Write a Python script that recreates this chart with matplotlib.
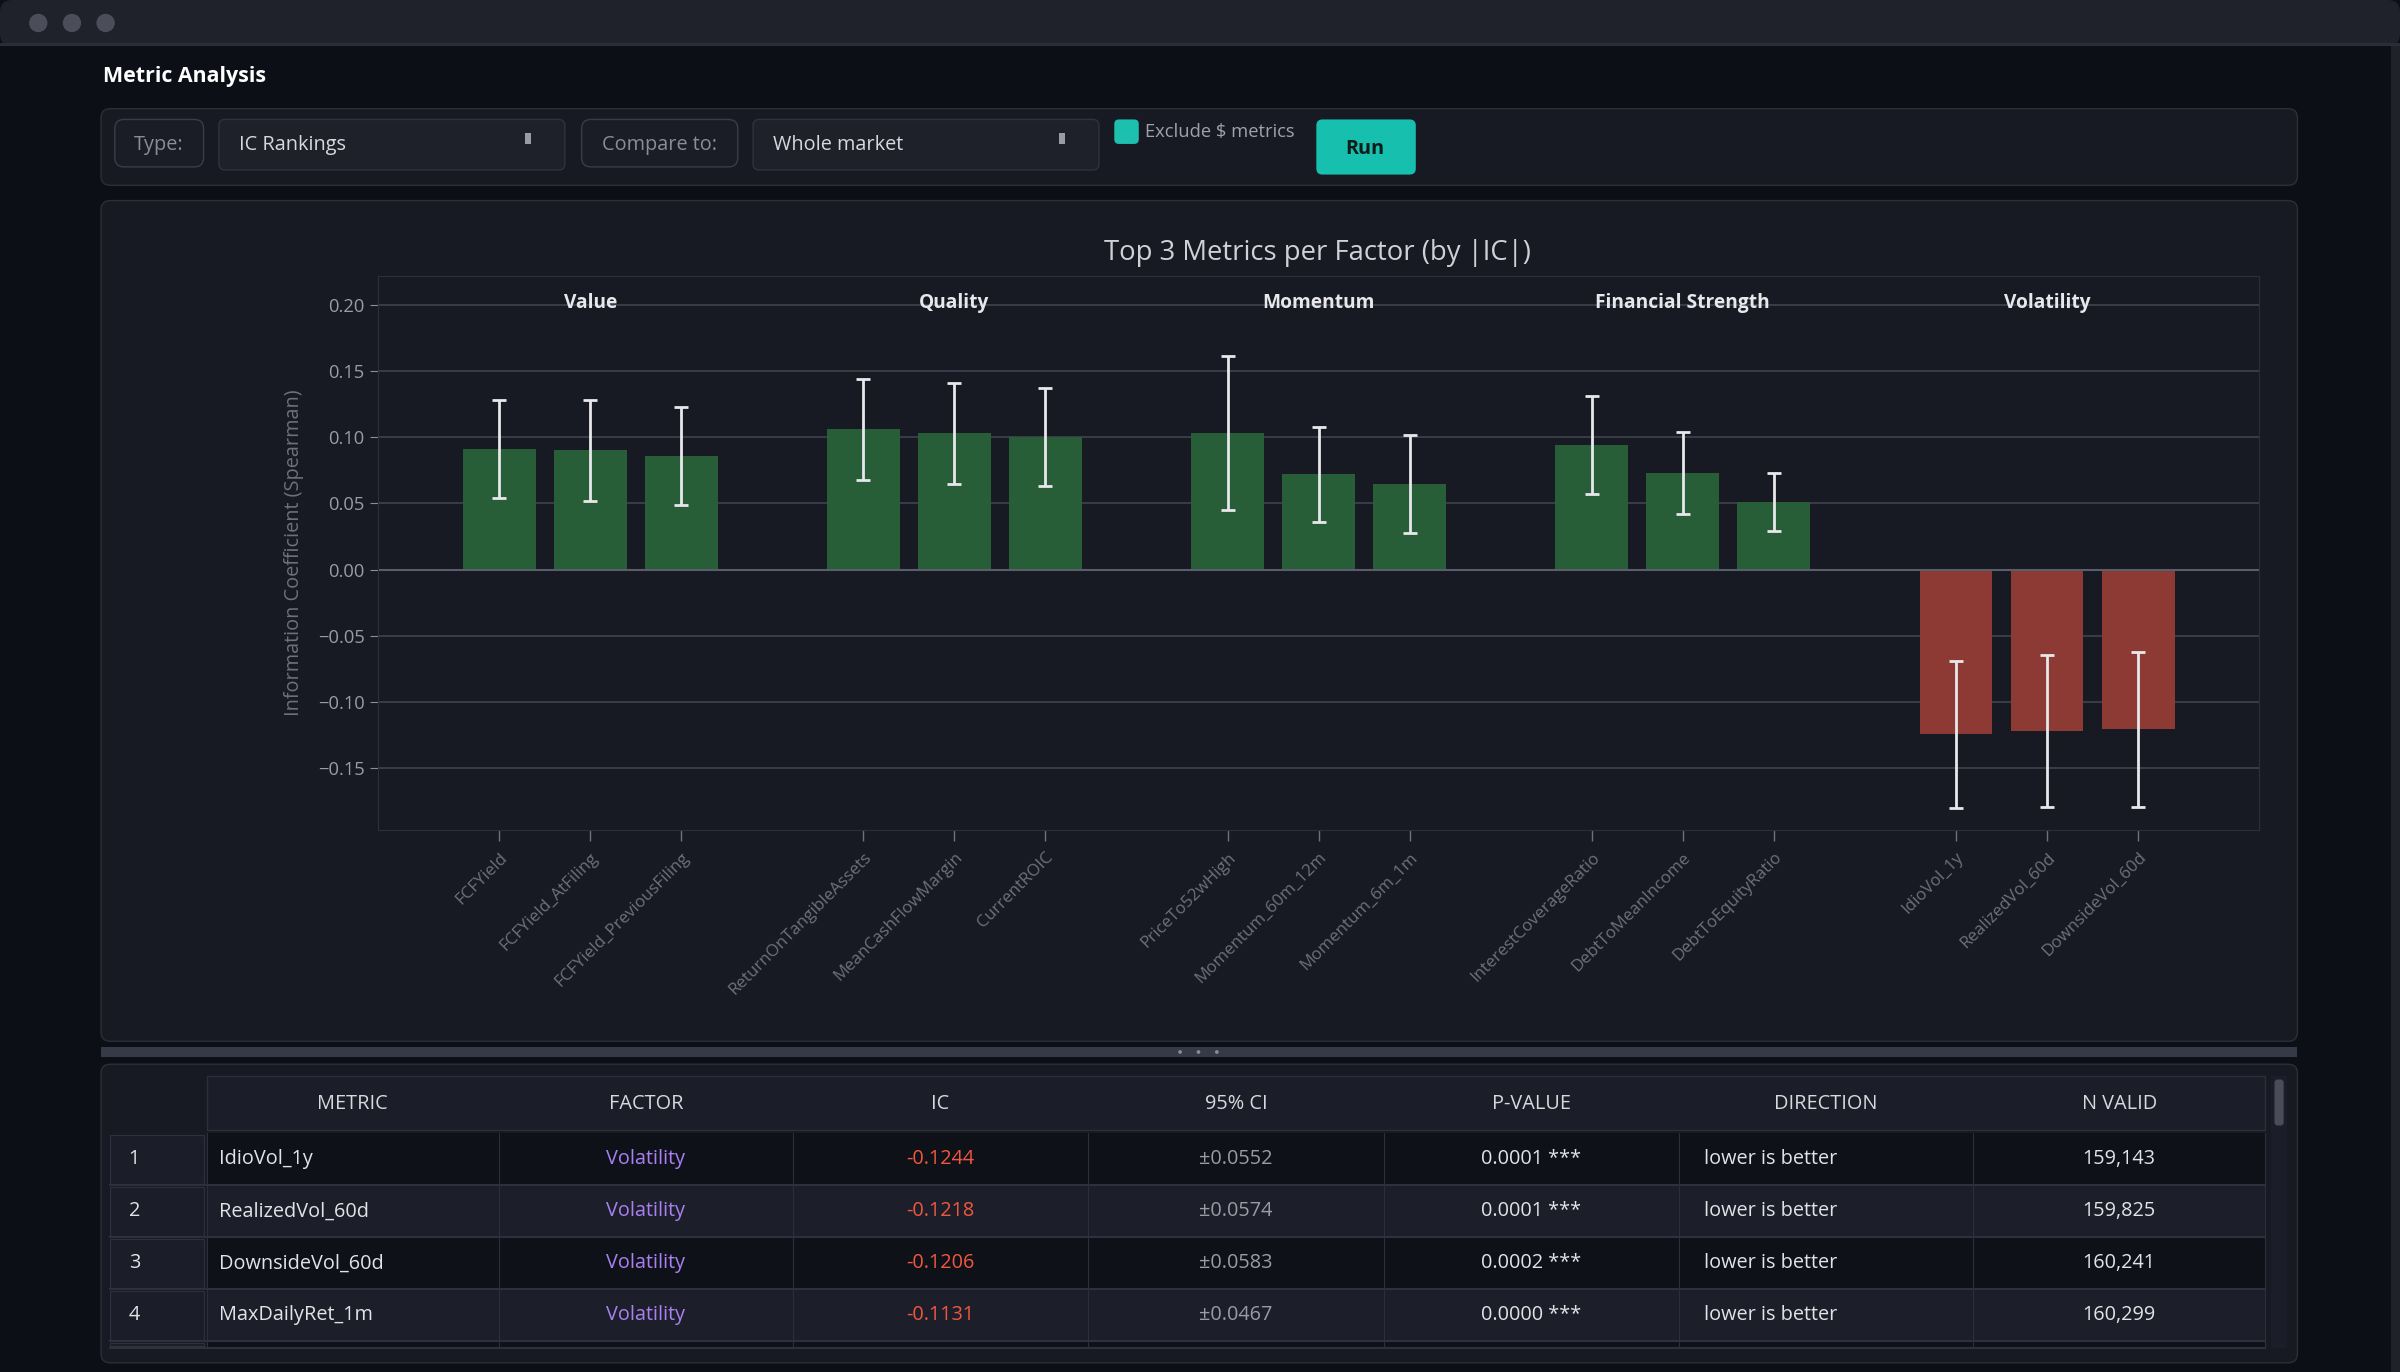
import matplotlib
matplotlib.use("Agg")
import matplotlib.pyplot as plt
from matplotlib.patches import FancyBboxPatch, Rectangle, Circle
import numpy as np

plt.rcParams['font.family'] = ['Open Sans', 'DejaVu Sans']

factors = ["Value", "Quality", "Momentum", "Financial Strength", "Volatility"]
metrics = ["FCFYield", "FCFYield_AtFiling", "FCFYield_PreviousFiling",
           "ReturnOnTangibleAssets", "MeanCashFlowMargin", "CurrentROIC",
           "PriceTo52wHigh", "Momentum_60m_12m", "Momentum_6m_1m",
           "InterestCoverageRatio", "DebtToMeanIncome", "DebtToEquityRatio",
           "IdioVol_1y", "RealizedVol_60d", "DownsideVol_60d"]
ic_values = [0.091, 0.090, 0.086, 0.106, 0.103, 0.100, 0.103, 0.072, 0.065,
             0.094, 0.073, 0.051, -0.1244, -0.1218, -0.1206]
ci_values = [0.037, 0.038, 0.037, 0.038, 0.038, 0.037, 0.058, 0.036, 0.037,
             0.037, 0.031, 0.022, 0.0552, 0.0574, 0.0583]
yticks = [-0.15, -0.10, -0.05, 0.00, 0.05, 0.10, 0.15, 0.20]

table_cols = ["METRIC", "FACTOR", "IC", "95% CI", "P-VALUE", "DIRECTION", "N VALID"]
t_metric = ["IdioVol_1y", "RealizedVol_60d", "DownsideVol_60d", "MaxDailyRet_1m"]
t_factor = ["Volatility"] * 4
t_ic = ["-0.1244", "-0.1218", "-0.1206", "-0.1131"]
t_ci = ["±0.0552", "±0.0574", "±0.0583", "±0.0467"]
t_p = ["0.0001 ***", "0.0001 ***", "0.0002 ***", "0.0000 ***"]
t_dir = ["lower is better"] * 4
t_n = ["159,143", "159,825", "160,241", "160,299"]

W, H = 1568, 896
S = 2400 / W
def fs(px):
    return px * S * 0.72

fig = plt.figure(figsize=(24, 13.72), dpi=100)
fig.patch.set_facecolor("#0d0f16")
ui = fig.add_axes([0, 0, 1, 1])
ui.set_xlim(0, W); ui.set_ylim(H, 0); ui.axis("off")

def rbox(x0, y0, x1, y1, fc, ec="none", r=4, lw=1.0, z=1):
    ui.add_patch(FancyBboxPatch((x0, y0), x1 - x0, y1 - y0,
                                boxstyle=f"round,pad=0,rounding_size={r}",
                                fc=fc, ec=ec, lw=lw, zorder=z))

# window
rbox(0, 0, W, 30, "#1f222b", r=8)
ui.add_patch(Rectangle((0, 28), W, 2, fc="#2a2d36", zorder=2))
for cx in (25, 47, 69):
    ui.add_patch(Circle((cx, 15), 6, fc="#4b4e58", zorder=3))
ui.add_patch(Rectangle((1562, 30), 6, H - 30, fc="#1f222b", zorder=2))
ui.text(67, 50, "Metric Analysis", color="white", fontsize=fs(14), fontweight="bold", va="center")

# toolbar
rbox(66, 71, 1501, 121, "#171a23", ec="#2c2f39", r=6)
rbox(75, 78, 133, 109, "#1a1d26", ec="#3a3d47", r=6, z=2)
ui.text(104, 95, "Type:", color="#8a8d96", fontsize=fs(13), ha="center", va="center")
rbox(143, 78, 369, 111, "#1e212a", ec="#30333d", r=4, z=2)
ui.text(156, 95, "IC Rankings", color="#d8d9dd", fontsize=fs(13), va="center")
ui.add_patch(Rectangle((343, 87), 4, 7, fc="#9a9ca5", zorder=3))
rbox(380, 78, 482, 109, "#1a1d26", ec="#3a3d47", r=6, z=2)
ui.text(431, 95, "Compare to:", color="#8a8d96", fontsize=fs(13), ha="center", va="center")
rbox(492, 78, 718, 111, "#1e212a", ec="#30333d", r=4, z=2)
ui.text(505, 95, "Whole market", color="#d8d9dd", fontsize=fs(13), va="center")
ui.add_patch(Rectangle((692, 87), 4, 7, fc="#9a9ca5", zorder=3))
rbox(728, 78, 744, 94, "#1dbfae", r=3, z=2)
ui.text(748, 86, r"Exclude \$ metrics", color="#a0a2aa", fontsize=fs(12), va="center")
rbox(860, 78, 925, 114, "#16bfae", r=4, z=2)
ui.text(892, 97, "Run", color="#0f1a1a", fontsize=fs(13), ha="center", va="center", fontweight="bold")

# chart panel
rbox(66, 131, 1501, 680, "#171a23", ec="#2c2f39", r=6)
ui.add_patch(Rectangle((66, 684), 1435, 6, fc="#363a46", zorder=2))
for cx in (771, 783, 795):
    ui.add_patch(Circle((cx, 687), 1.2, fc="#8a8d96", zorder=3))
ui.text(861, 165, "Top 3 Metrics per Factor (by |IC|)", color="#d0d1d6", fontsize=fs(18),
        ha="center", va="center")

# table panel
rbox(66, 695, 1501, 890, "#171a23", ec="#2c2f39", r=6)
col_x = [135, 326, 518, 711, 904, 1097, 1289, 1480]
ui.add_patch(Rectangle((135, 703), 1345, 35, fc="#1b1e28", ec="#2c2f39", zorder=2))
ui.add_patch(Rectangle((72, 703), 61, 35, fc="#171a23", zorder=2))
for j, c in enumerate(table_cols):
    ui.text((col_x[j] + col_x[j + 1]) / 2, 721, c, color="#d8d9dd", fontsize=fs(13),
            ha="center", va="center")
row_y = [740, 774, 808, 842, 876]
row_fc = ["#0f1118", "#1c1f29", "#0f1118", "#1c1f29", "#0f1118"]
colors = ["#e2e3e6", "#a97ff2", "#f0573f", "#9a9ca5", "#e2e3e6", "#e2e3e6", "#e2e3e6"]
for i in range(5):
    y0 = row_y[i]
    y1 = min(y0 + 34, 880)
    ui.add_patch(Rectangle((135, y0), 1345, y1 - y0, fc=row_fc[i], ec="none", zorder=2))
    ui.add_patch(Rectangle((72, y0 + 1), 61, y1 - y0 - 2, fc="#1b1e28", ec="#2e313b", lw=0.8, zorder=2))
    for x in col_x:
        ui.plot([x, x], [y0, y1], color="#2c2f39", lw=0.8, zorder=3)
    ui.plot([72, 1480], [y1, y1], color="#2e313b", lw=1.5, zorder=3)
    if i < 4:
        yc = y0 + 17
        ui.text(84, yc, str(i + 1), color="#e2e3e6", fontsize=fs(13), va="center", zorder=4)
        vals = [t_metric[i], t_factor[i], t_ic[i], t_ci[i], t_p[i], t_dir[i], t_n[i]]
        for j, v in enumerate(vals):
            if j in (0, 5):
                ui.text(col_x[j] + 8 + (8 if j == 5 else 0), yc, v, color=colors[j],
                        fontsize=fs(13), va="center", zorder=4)
            else:
                ui.text((col_x[j] + col_x[j + 1]) / 2, yc, v, color=colors[j],
                        fontsize=fs(13), ha="center", va="center", zorder=4)
ui.add_patch(Rectangle((1484, 703), 10, 177, fc="#1b1e28", zorder=2))
rbox(1486, 705, 1492, 735, "#4a4d57", r=2, z=3)

# chart axes
x0, x1, y0, y1 = 247, 1476, 180, 542
ax = fig.add_axes([x0 / W, 1 - y1 / H, (x1 - x0) / W, (y1 - y0) / H])
ax.set_facecolor("#171a23")
pos = np.array([g * 4 + i for g in range(5) for i in range(3)])
bar_colors = ["#275e38" if v >= 0 else "#8e3a34" for v in ic_values]
ax.bar(pos, ic_values, width=0.8, color=bar_colors, zorder=2)
ax.errorbar(pos, ic_values, yerr=ci_values, fmt="none", ecolor="#e8e8ec",
            elinewidth=2, capsize=5, capthick=2, zorder=3)
ax.axhline(0, color="#5a5e6a", lw=1.5, zorder=2)
ax.set_xlim(-1.33, 19.33)
ax.set_ylim(-0.1965, 0.222)
ax.set_yticks(yticks)
ax.set_yticklabels([f"{t:.2f}".replace("-", "\u2212") for t in yticks])
ax.grid(axis="y", color="#3d404b", lw=1.3, zorder=0)
ax.set_axisbelow(True)
ax.set_xticks(pos)
ax.set_xticklabels(metrics, rotation=45, ha="right", rotation_mode="anchor")
ax.tick_params(axis="x", colors="#6e717b", labelsize=fs(11), length=8, width=1, pad=6)
ax.tick_params(axis="y", colors="#8a8d96", labelsize=fs(12), length=6)
for lab in ax.get_yticklabels():
    lab.set_color("#9a9ca5")
for s in ax.spines.values():
    s.set_color("#2c2f39")
ax.set_ylabel("Information Coefficient (Spearman)", color="#6e717b", fontsize=fs(13), labelpad=10)
for g, f in enumerate(factors):
    ax.text(g * 4 + 1, 0.95, f, transform=ax.get_xaxis_transform(), color="#e8e8ec",
            fontsize=fs(12.5), fontweight="bold", ha="center", va="center")

fig.savefig("out.png", dpi=100, facecolor=fig.get_facecolor())
